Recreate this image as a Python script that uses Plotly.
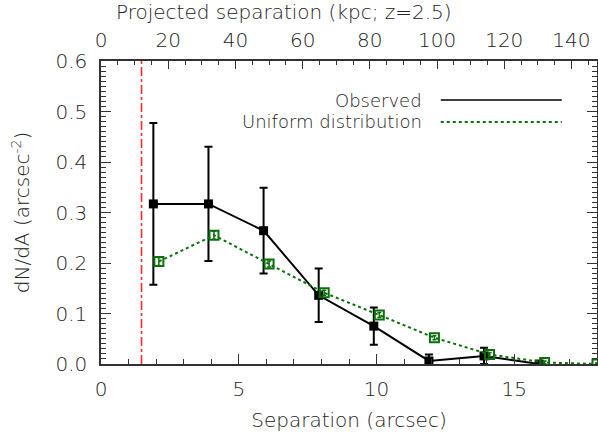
import plotly.graph_objects as go

# --- data ---
obs_x = [1.9, 3.9, 5.9, 7.9, 9.9, 11.9, 13.9, 15.9]
obs_y = [0.317, 0.317, 0.264, 0.136, 0.075, 0.006, 0.016, 0.0]
obs_err = [0.160, 0.113, 0.085, 0.053, 0.037, 0.013, 0.016, 0.0]

uni_x = [2.1, 4.1, 6.1, 8.1, 10.1, 12.1, 14.1, 16.1, 18.0]
uni_y = [0.203, 0.255, 0.198, 0.141, 0.097, 0.052, 0.019, 0.003, 0.0]
uni_err = [0.008, 0.008, 0.006, 0.005, 0.005, 0.004, 0.004, 0.003, 0.002]

resolution_limit = 1.47          # arcsec, red dash-dot line
kpc_per_arcsec = 8.2             # z = 2.5
x_range = [0, 18]
y_range = [0, 0.6]

FONT = "DejaVu Sans"
FS = 20
WT = 200
TXT = "#222222"
GREEN = "#0a700a"

def fnt(size=FS):
    return dict(family=FONT, size=size, color=TXT, weight=WT)

fig = go.Figure()

fig.add_trace(go.Scatter(
    x=obs_x, y=obs_y, mode="lines+markers", name="Observed",
    line=dict(color="black", width=2),
    marker=dict(symbol="square", size=9, color="black"),
    error_y=dict(type="data", array=obs_err, color="black", thickness=2, width=4),
    showlegend=False, cliponaxis=True,
))
fig.add_trace(go.Scatter(
    x=uni_x, y=uni_y, mode="lines+markers", name="Uniform distribution",
    line=dict(color=GREEN, width=2, dash="dot"),
    marker=dict(symbol="square-open", size=9, color=GREEN, line=dict(width=2, color=GREEN)),
    error_y=dict(type="data", array=uni_err, color=GREEN, thickness=1.5, width=2),
    showlegend=False, cliponaxis=True,
))
# invisible trace to activate top axis
fig.add_trace(go.Scatter(x=[0], y=[0], xaxis="x2", mode="markers",
                         marker=dict(opacity=0), showlegend=False, hoverinfo="skip"))

fig.add_shape(type="line", xref="x", yref="y", x0=resolution_limit, x1=resolution_limit,
              y0=y_range[0], y1=y_range[1], line=dict(color="#ff2a2a", width=1.6, dash="dashdot"))

# legend drawn as text + lines
legend_items = [("Observed", "black", "solid", 0.871), ("Uniform distribution", GREEN, "dot", 0.799)]
for label, col, dash, yy in legend_items:
    fig.add_annotation(xref="paper", yref="paper", x=0.651, y=yy, text=label,
                       showarrow=False, xanchor="right", yanchor="middle",
                       font=fnt(18))
    fig.add_shape(type="line", xref="paper", yref="paper", x0=0.685, x1=0.929, y0=yy, y1=yy,
                  line=dict(color=col, width=1.5 if dash == "solid" else 2, dash=dash))

# top axis title (offset to the left as in the reference)
fig.add_annotation(xref="paper", yref="paper", x=0.369, y=1.162,
                   text="Projected separation (kpc; z=2.5)", showarrow=False,
                   xanchor="center", yanchor="middle", font=fnt())

axis_common = dict(
    showline=True, linecolor="#333333", linewidth=1.5, ticks="inside",
    tickcolor="#333333", tickwidth=1, showgrid=False, zeroline=False,
    tickfont=fnt(), automargin=False,
)

fig.update_layout(
    width=598, height=436,
    margin=dict(l=101, r=1, t=61, b=72),
    paper_bgcolor="white", plot_bgcolor="white",
    xaxis=dict(range=x_range, dtick=5, tick0=0, ticklen=10,
               minor=dict(dtick=1, ticks="inside", ticklen=5, tickcolor="#333333"),
               title=dict(text="Separation (arcsec)", font=fnt(), standoff=13),
               ticklabelstandoff=6,
               **axis_common),
    xaxis2=dict(range=[x_range[0] * kpc_per_arcsec, x_range[1] * kpc_per_arcsec], overlaying="x",
                side="top", dtick=20, tick0=0, ticklen=8,
                minor=dict(dtick=5, ticks="inside", ticklen=4, tickcolor="#333333"),
                ticklabelstandoff=4,
                **axis_common),
    yaxis=dict(range=y_range, dtick=0.1, tick0=0, ticklen=10, tickformat=".1f", mirror="ticks",
               minor=dict(dtick=0.01, ticks="inside", ticklen=5, tickcolor="#333333"),
               title=dict(text="dN/dA (arcsec<sup>-2</sup>)", font=fnt(), standoff=20),
               ticklabelstandoff=8,
               **axis_common),
)

fig.write_html("out.html", config={"displayModeBar": False},
               post_script="document.body.style.margin='0';")
